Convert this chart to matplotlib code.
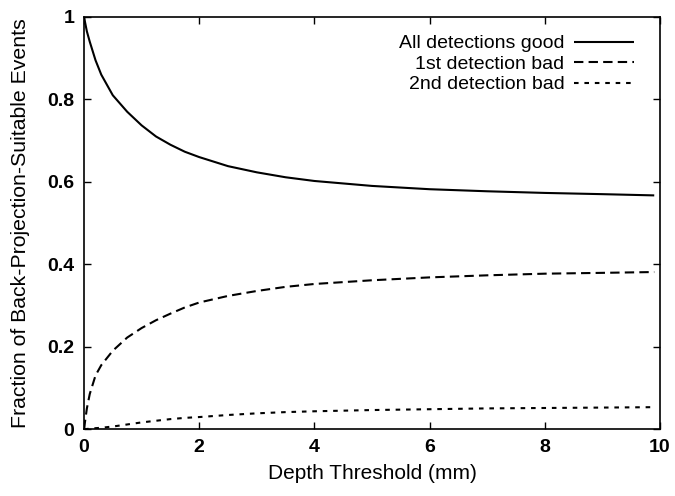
import matplotlib
matplotlib.use("Agg")
import matplotlib.pyplot as plt
from matplotlib.ticker import FixedLocator, FuncFormatter

plt.rcParams['font.family'] = ['Liberation Sans', 'DejaVu Sans']

depth = [0, 0.05, 0.1, 0.2, 0.3, 0.5, 0.75, 1.0, 1.25, 1.5, 1.75, 2.0, 2.5, 3.0, 3.5, 4.0,
         5.0, 6.0, 7.0, 8.0, 9.0, 9.9]
all_good = [1.0, 0.965, 0.94, 0.895, 0.86, 0.81, 0.77, 0.737, 0.71, 0.69, 0.673, 0.66, 0.638,
            0.623, 0.611, 0.602, 0.59, 0.582, 0.577, 0.573, 0.57, 0.567]
first_bad = [0.0, 0.05, 0.085, 0.13, 0.155, 0.19, 0.222, 0.245, 0.264, 0.28, 0.295, 0.307, 0.323,
             0.335, 0.345, 0.352, 0.361, 0.368, 0.373, 0.377, 0.379, 0.381]
second_bad = [0.0, 0.0, 0.001, 0.002, 0.003, 0.006, 0.011, 0.016, 0.02, 0.024, 0.027, 0.029, 0.034,
              0.038, 0.041, 0.043, 0.046, 0.048, 0.05, 0.051, 0.052, 0.053]
labels = ["All detections good", "1st detection bad", "2nd detection bad"]
xticks = [0, 2, 4, 6, 8, 10]
yticks = [0, 0.2, 0.4, 0.6, 0.8, 1.0]

fig = plt.figure(figsize=(6.75, 4.96), dpi=100)
ax = fig.add_axes([84/675, 67/496, 576/675, 412/496])

lw = 1.5
ax.plot(depth, all_good, color='black', lw=lw, solid_capstyle='butt', label=labels[0])
ax.plot(depth, first_bad, color='black', lw=lw, dashes=(4.5, 2.5), label=labels[1])
ax.plot(depth, second_bad, color='black', lw=lw, dashes=(2.2, 2.8), label=labels[2])

ax.set_xlim(0, 10)
ax.set_ylim(0, 1)
ax.xaxis.set_major_locator(FixedLocator(xticks))
ax.yaxis.set_major_locator(FixedLocator(yticks))
fmt = FuncFormatter(lambda v, p: ('%g' % v))
ax.xaxis.set_major_formatter(fmt)
ax.yaxis.set_major_formatter(fmt)
ax.tick_params(direction='in', length=5, width=1.0, top=True, right=True,
               labelsize=14, pad=7)
for lab in ax.get_xticklabels() + ax.get_yticklabels():
    lab.set_fontweight('bold')
for s in ax.spines.values():
    s.set_linewidth(1.2)

ax.set_xlabel("Depth Threshold (mm)", fontsize=15, labelpad=6)
ax.set_ylabel("Fraction of Back-Projection-Suitable Events", fontsize=15.3, labelpad=12)

leg = ax.legend(loc='upper right', frameon=False, markerfirst=False, fontsize=14,
                handlelength=3.1, handletextpad=0.5, labelspacing=0.15,
                borderaxespad=0.3, bbox_to_anchor=(0.979, 0.99))

fig.savefig("out.png", dpi=100)
